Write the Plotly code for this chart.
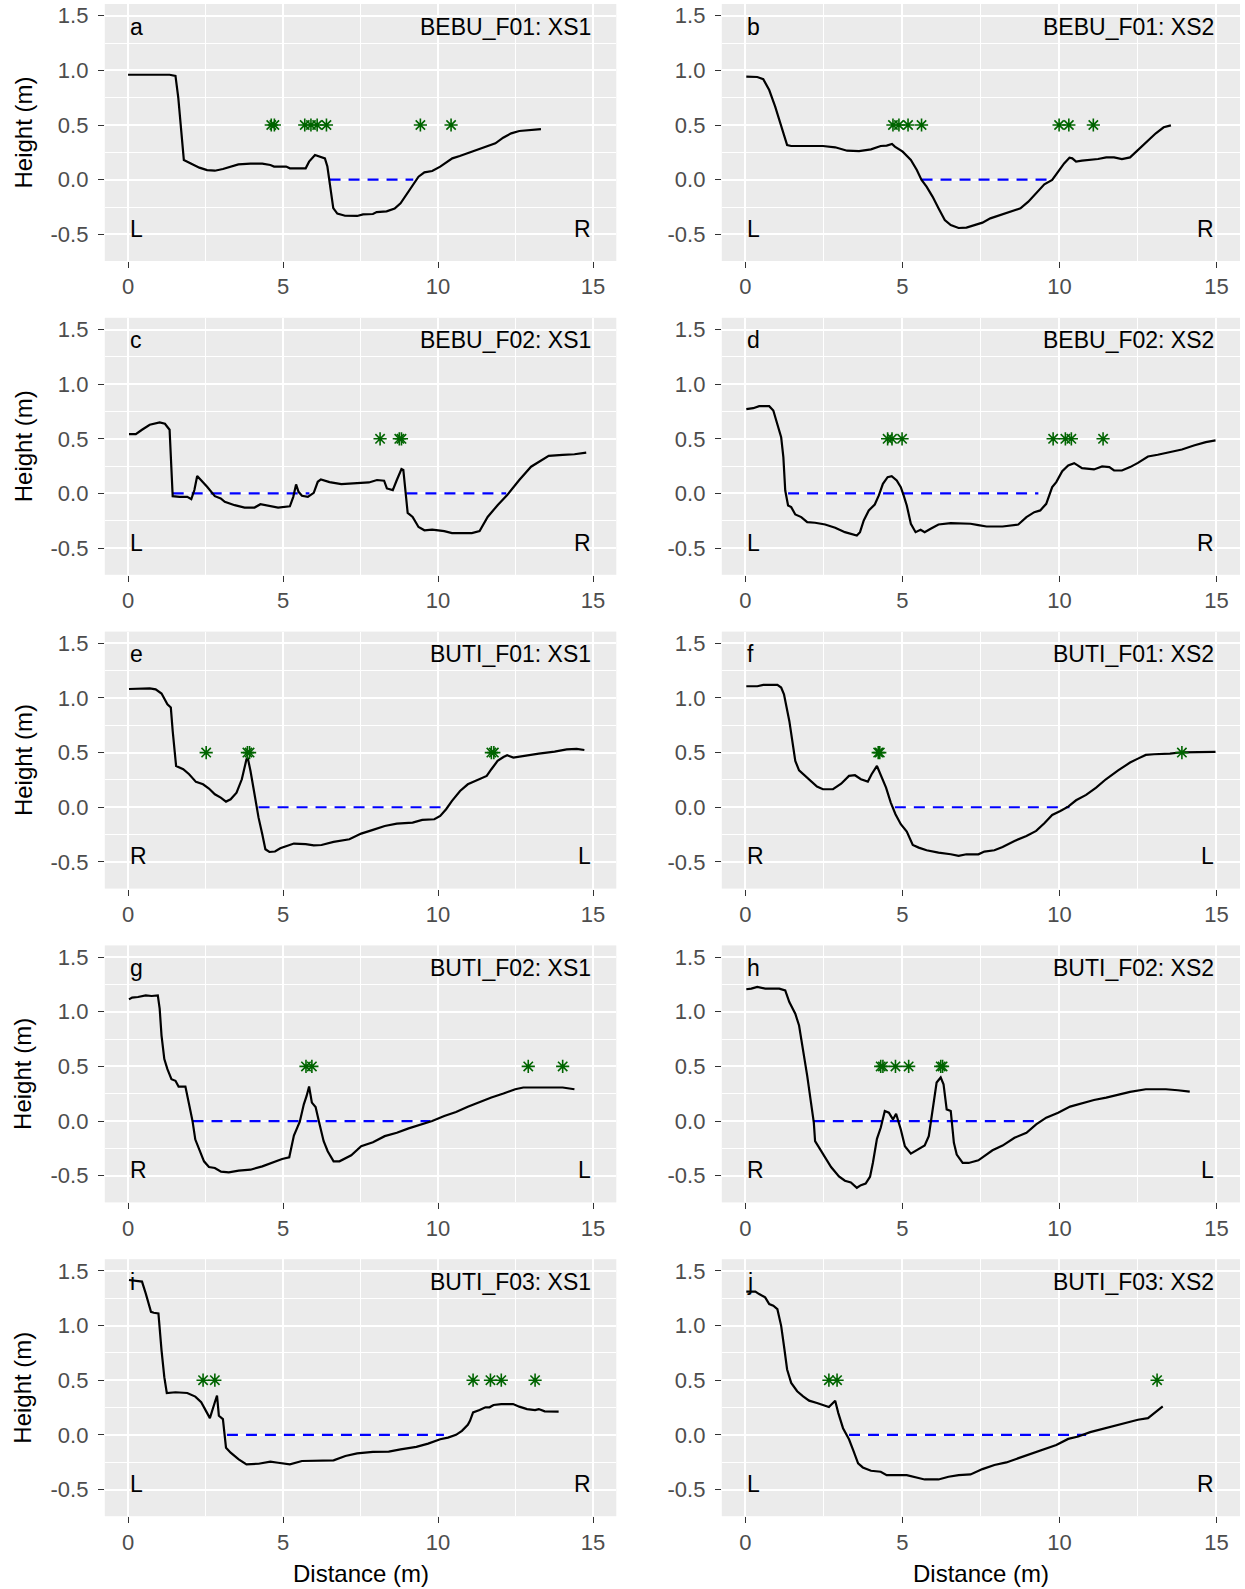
import plotly.graph_objects as go

# ---------------- data ----------------
panel_letters = ["a", "b", "c", "d", "e", "f", "g", "h", "i", "j"]
panel_titles = ["BEBU_F01: XS1", "BEBU_F01: XS2", "BEBU_F02: XS1", "BEBU_F02: XS2",
                "BUTI_F01: XS1", "BUTI_F01: XS2", "BUTI_F02: XS1", "BUTI_F02: XS2",
                "BUTI_F03: XS1", "BUTI_F03: XS2"]
left_bank = ["L", "L", "L", "L", "R", "R", "R", "R", "L", "L"]
right_bank = ["R", "R", "R", "R", "L", "L", "L", "L", "R", "R"]

x_ticks = [0, 5, 10, 15]
x_ticklabels = ["0", "5", "10", "15"]
y_ticks = [-0.5, 0.0, 0.5, 1.0, 1.5]
y_ticklabels = ["-0.5", "0.0", "0.5", "1.0", "1.5"]

a_x = [0.0, 1.34, 1.53, 1.62, 1.8, 1.9, 2.1, 2.3, 2.55, 2.8, 3.06, 3.31, 3.56, 3.95, 4.33, 4.59, 4.71, 5.1, 5.22,
       5.73, 5.84, 6.03, 6.18, 6.35, 6.43, 6.53, 6.62, 6.75, 7.0, 7.39, 7.58, 7.9, 8.02, 8.34, 8.6, 8.79, 8.98,
       9.18, 9.37, 9.56, 9.81, 10.07, 10.27, 10.46, 10.7, 11.08, 11.47, 11.85, 12.1, 12.36, 12.62, 12.99, 13.32]
a_y = [0.96, 0.96, 0.95, 0.75, 0.18, 0.165, 0.14, 0.11, 0.088, 0.082, 0.098, 0.12, 0.14, 0.146, 0.146, 0.134, 0.12,
       0.12, 0.104, 0.104, 0.165, 0.225, 0.21, 0.195, 0.12, -0.064, -0.26, -0.31, -0.33, -0.332, -0.317, -0.314,
       -0.296, -0.29, -0.265, -0.216, -0.14, -0.049, 0.027, 0.067, 0.079, 0.119, 0.159, 0.195, 0.216, 0.256, 0.293,
       0.332, 0.384, 0.424, 0.445, 0.454, 0.463]

b_x = [0.03, 0.38, 0.57, 0.76, 0.95, 1.14, 1.33, 1.46, 2.47, 2.86, 3.24, 3.62, 4.0, 4.31, 4.5, 4.67, 4.76, 5.01,
       5.27, 5.46, 5.61, 5.77, 5.96, 6.15, 6.35, 6.54, 6.79, 7.04, 7.3, 7.55, 7.8, 8.19, 8.5, 8.76, 9.01, 9.26,
       9.52, 9.77, 9.96, 10.15, 10.32, 10.41, 10.53, 10.72, 11.23, 11.49, 11.74, 11.99, 12.25, 12.5, 12.75, 13.07,
       13.32, 13.55]
b_y = [0.942, 0.939, 0.92, 0.82, 0.668, 0.485, 0.317, 0.308, 0.308, 0.296, 0.265, 0.262, 0.277, 0.308, 0.311, 0.326,
       0.302, 0.256, 0.18, 0.088, -0.003, -0.064, -0.155, -0.262, -0.369, -0.415, -0.442, -0.439, -0.418, -0.393,
       -0.354, -0.314, -0.287, -0.262, -0.201, -0.125, -0.043, -0.003, 0.073, 0.149, 0.201, 0.195, 0.165, 0.174,
       0.189, 0.204, 0.204, 0.189, 0.204, 0.271, 0.338, 0.424, 0.479, 0.497]

c_x = [0.03, 0.25, 0.45, 0.7, 1.02, 1.19, 1.34, 1.4, 1.44, 1.66, 1.91, 2.04, 2.14, 2.23, 2.36, 2.55, 2.8, 2.99, 3.12,
       3.44, 3.76, 4.08, 4.27, 4.46, 4.84, 5.22, 5.33, 5.42, 5.5, 5.61, 5.8, 5.99, 6.12, 6.22, 6.5, 6.88, 7.39,
       7.77, 8.03, 8.26, 8.35, 8.54, 8.67, 8.82, 8.88, 8.95, 9.02, 9.18, 9.37, 9.56, 9.81, 10.2, 10.45, 11.09,
       11.34, 11.6, 11.92, 12.23, 12.62, 13.0, 13.26, 13.57, 14.02, 14.4, 14.78]
c_y = [0.543, 0.543, 0.583, 0.629, 0.65, 0.638, 0.583, 0.245, -0.025, -0.031, -0.031, -0.052, 0.031, 0.16, 0.123,
       0.061, -0.025, -0.046, -0.077, -0.107, -0.129, -0.129, -0.098, -0.107, -0.129, -0.117, -0.031, 0.083, 0.015,
       -0.021, -0.031, 0.006, 0.107, 0.129, 0.104, 0.086, 0.098, 0.101, 0.123, 0.117, 0.046, 0.031, 0.123, 0.224,
       0.215, 0.0, -0.178, -0.215, -0.307, -0.337, -0.331, -0.344, -0.362, -0.362, -0.344, -0.215, -0.107, -0.015,
       0.123, 0.245, 0.291, 0.344, 0.353, 0.359, 0.374]

d_x = [0.03, 0.25, 0.44, 0.76, 0.89, 1.02, 1.14, 1.21, 1.27, 1.36, 1.46, 1.59, 1.78, 1.97, 2.22, 2.54, 2.86, 3.17,
       3.36, 3.55, 3.65, 3.77, 3.93, 4.12, 4.25, 4.38, 4.53, 4.66, 4.82, 4.95, 5.04, 5.14, 5.27, 5.42, 5.58, 5.71,
       5.9, 6.15, 6.54, 7.17, 7.42, 7.68, 8.19, 8.69, 8.95, 9.2, 9.39, 9.58, 9.77, 9.9, 10.09, 10.28, 10.47, 10.72,
       11.1, 11.36, 11.59, 11.74, 11.99, 12.25, 12.5, 12.82, 13.13, 13.51, 13.9, 14.28, 14.66, 14.97]
d_y = [0.771, 0.78, 0.799, 0.799, 0.759, 0.637, 0.515, 0.332, 0.027, -0.11, -0.125, -0.192, -0.216, -0.262, -0.268,
       -0.284, -0.314, -0.354, -0.369, -0.384, -0.354, -0.247, -0.155, -0.101, -0.018, 0.088, 0.149, 0.159, 0.119,
       0.058, -0.018, -0.11, -0.277, -0.354, -0.332, -0.354, -0.323, -0.284, -0.271, -0.277, -0.29, -0.302, -0.302,
       -0.284, -0.216, -0.171, -0.155, -0.095, 0.058, 0.104, 0.204, 0.256, 0.277, 0.232, 0.22, 0.247, 0.241, 0.21,
       0.21, 0.241, 0.28, 0.338, 0.354, 0.378, 0.402, 0.439, 0.47, 0.485]

e_x = [0.03, 0.51, 0.7, 0.89, 1.08, 1.27, 1.38, 1.44, 1.55, 1.78, 1.97, 2.19, 2.42, 2.61, 2.8, 2.99, 3.16, 3.31, 3.5,
       3.67, 3.82, 3.86, 3.95, 4.08, 4.21, 4.33, 4.43, 4.56, 4.74, 4.91, 5.1, 5.35, 5.73, 5.99, 6.24, 6.63, 7.14,
       7.52, 7.9, 8.28, 8.67, 9.18, 9.49, 9.88, 10.07, 10.26, 10.45, 10.71, 10.96, 11.22, 11.57, 11.72, 11.92,
       12.11, 12.23, 12.43, 12.75, 13.25, 13.76, 14.15, 14.47, 14.72]
e_y = [1.082, 1.082, 1.088, 1.079, 1.04, 0.942, 0.912, 0.698, 0.378, 0.348, 0.302, 0.232, 0.21, 0.171, 0.119, 0.088,
       0.052, 0.073, 0.134, 0.256, 0.439, 0.454, 0.332, 0.119, -0.095, -0.247, -0.384, -0.409, -0.405, -0.375,
       -0.354, -0.332, -0.338, -0.348, -0.345, -0.317, -0.293, -0.241, -0.207, -0.171, -0.149, -0.14, -0.116,
       -0.11, -0.079, -0.018, 0.058, 0.149, 0.21, 0.241, 0.287, 0.348, 0.424, 0.46, 0.476, 0.454, 0.47, 0.491,
       0.509, 0.53, 0.534, 0.524]

f_x = [0.03, 0.38, 0.57, 1.02, 1.14, 1.23, 1.4, 1.59, 1.71, 1.9, 2.09, 2.28, 2.47, 2.79, 3.05, 3.3, 3.49, 3.68, 3.9,
       4.02, 4.19, 4.31, 4.48, 4.63, 4.78, 4.95, 5.14, 5.33, 5.52, 5.77, 6.15, 6.54, 6.79, 7.04, 7.42, 7.61, 7.93,
       8.19, 8.57, 8.95, 9.26, 9.52, 9.77, 10.03, 10.28, 10.53, 10.85, 11.17, 11.48, 11.87, 12.25, 12.5, 12.75,
       13.01, 13.52, 13.9, 14.4, 14.97]
f_y = [1.107, 1.107, 1.119, 1.119, 1.095, 1.034, 0.79, 0.424, 0.338, 0.287, 0.232, 0.189, 0.165, 0.165, 0.216, 0.287,
       0.293, 0.256, 0.235, 0.302, 0.378, 0.302, 0.18, 0.043, -0.064, -0.155, -0.223, -0.345, -0.369, -0.393,
       -0.415, -0.43, -0.445, -0.43, -0.43, -0.405, -0.393, -0.363, -0.308, -0.262, -0.216, -0.146, -0.07, -0.034,
       0.006, 0.064, 0.113, 0.18, 0.256, 0.338, 0.409, 0.445, 0.479, 0.485, 0.491, 0.503, 0.506, 0.506]

g_x = [0.03, 0.13, 0.32, 0.57, 0.76, 0.96, 1.02, 1.08, 1.17, 1.27, 1.4, 1.53, 1.63, 1.85, 1.98, 2.08, 2.17, 2.29,
       2.45, 2.61, 2.8, 3.0, 3.25, 3.57, 3.95, 4.33, 4.72, 4.97, 5.2, 5.35, 5.54, 5.67, 5.76, 5.84, 5.93, 6.05,
       6.18, 6.31, 6.44, 6.63, 6.82, 7.01, 7.2, 7.52, 7.9, 8.28, 8.67, 9.05, 9.43, 9.81, 10.2, 10.58, 10.96, 11.34,
       11.72, 12.11, 12.49, 12.75, 13.25, 14.02, 14.4]
g_y = [1.113, 1.129, 1.135, 1.15, 1.144, 1.15, 1.028, 0.782, 0.567, 0.475, 0.383, 0.368, 0.316, 0.316, 0.138, 0.0,
       -0.169, -0.261, -0.368, -0.42, -0.429, -0.463, -0.469, -0.454, -0.445, -0.414, -0.374, -0.347, -0.331,
       -0.132, -0.006, 0.153, 0.23, 0.316, 0.169, 0.129, -0.031, -0.184, -0.276, -0.368, -0.368, -0.337, -0.313,
       -0.23, -0.193, -0.138, -0.107, -0.067, -0.037, 0.0, 0.046, 0.083, 0.132, 0.175, 0.215, 0.252, 0.291, 0.307,
       0.307, 0.307, 0.291]

h_x = [0.03, 0.19, 0.38, 0.63, 1.08, 1.27, 1.4, 1.59, 1.71, 1.84, 1.97, 2.09, 2.18, 2.22, 2.35, 2.54, 2.73, 2.98,
       3.17, 3.36, 3.55, 3.68, 3.83, 3.97, 4.06, 4.19, 4.31, 4.44, 4.57, 4.7, 4.8, 4.95, 5.08, 5.27, 5.46, 5.71,
       5.84, 5.96, 6.09, 6.22, 6.31, 6.41, 6.54, 6.64, 6.73, 6.92, 7.11, 7.42, 7.61, 7.87, 8.19, 8.57, 8.95, 9.26,
       9.58, 9.96, 10.34, 10.72, 11.1, 11.49, 11.87, 12.25, 12.75, 13.39, 13.77, 14.15]
h_y = [1.206, 1.212, 1.227, 1.212, 1.212, 1.196, 1.089, 0.982, 0.874, 0.66, 0.414, 0.169, -0.015, -0.184, -0.245,
       -0.337, -0.42, -0.506, -0.546, -0.561, -0.61, -0.586, -0.571, -0.509, -0.383, -0.163, -0.061, 0.092, 0.077,
       0.015, 0.067, -0.077, -0.23, -0.298, -0.267, -0.224, -0.138, 0.107, 0.353, 0.399, 0.337, 0.107, 0.092,
       -0.199, -0.307, -0.383, -0.383, -0.359, -0.322, -0.267, -0.224, -0.153, -0.107, -0.031, 0.031, 0.077,
       0.132, 0.163, 0.193, 0.215, 0.239, 0.267, 0.291, 0.291, 0.282, 0.27]

i_x = [0.03, 0.19, 0.45, 0.57, 0.74, 0.83, 0.98, 1.08, 1.17, 1.25, 1.53, 1.91, 2.17, 2.36, 2.49, 2.64, 2.8, 2.87,
       2.93, 3.06, 3.16, 3.31, 3.57, 3.82, 4.21, 4.59, 4.84, 5.22, 5.61, 6.12, 6.63, 7.01, 7.39, 7.9, 8.41, 8.79,
       9.3, 9.68, 10.07, 10.32, 10.58, 10.77, 10.96, 11.03, 11.13, 11.34, 11.53, 11.66, 11.79, 12.04, 12.42,
       12.62, 12.87, 13.13, 13.25, 13.44, 13.89]
i_y = [1.417, 1.411, 1.402, 1.294, 1.126, 1.117, 1.11, 0.773, 0.528, 0.383, 0.39, 0.383, 0.35, 0.298, 0.236, 0.153,
       0.298, 0.359, 0.175, 0.144, -0.117, -0.163, -0.224, -0.27, -0.264, -0.245, -0.255, -0.27, -0.239, -0.239,
       -0.233, -0.193, -0.169, -0.156, -0.153, -0.132, -0.11, -0.08, -0.04, -0.025, 0.0, 0.037, 0.092, 0.129,
       0.206, 0.227, 0.252, 0.252, 0.273, 0.282, 0.282, 0.258, 0.236, 0.227, 0.236, 0.215, 0.212]

j_x = [0.03, 0.32, 0.44, 0.63, 0.76, 0.89, 1.02, 1.14, 1.23, 1.33, 1.46, 1.65, 1.84, 2.03, 2.28, 2.47, 2.66, 2.86,
       2.96, 3.11, 3.3, 3.43, 3.59, 3.74, 4.0, 4.31, 4.5, 5.14, 5.46, 5.71, 6.15, 6.47, 6.79, 7.17, 7.55, 7.93,
       8.31, 8.69, 9.07, 9.46, 9.9, 10.28, 10.6, 10.98, 11.36, 11.74, 12.12, 12.5, 12.82, 13.01, 13.29]
j_y = [1.31, 1.31, 1.288, 1.258, 1.196, 1.181, 1.15, 0.997, 0.813, 0.598, 0.475, 0.399, 0.353, 0.313, 0.291, 0.276,
       0.255, 0.313, 0.199, 0.061, -0.04, -0.138, -0.261, -0.298, -0.328, -0.337, -0.368, -0.368, -0.393, -0.408,
       -0.408, -0.383, -0.368, -0.362, -0.313, -0.276, -0.252, -0.215, -0.178, -0.138, -0.092, -0.037, -0.015,
       0.025, 0.052, 0.086, 0.107, 0.138, 0.153, 0.199, 0.261]

# water surface (blue dashed) segments: [start, end] pairs at height 0
a_water = [[6.5, 9.2]]
b_water = [[5.61, 9.81]]
c_water = [[1.44, 5.85], [8.98, 12.2]]
d_water = [[1.36, 9.33]]
e_water = [[4.21, 10.32]]
f_water = [[4.76, 10.32]]
g_water = [[2.08, 9.75]]
h_water = [[2.18, 9.26]]
i_water = [[3.19, 10.19]]
j_water = [[3.3, 10.85]]
water_level = 0.0

# marker (asterisk) positions, drawn at height 0.5
marker_height = 0.5
a_marks = [4.62, 4.72, 5.70, 5.90, 6.10, 6.40, 9.43, 10.42]
b_marks = [4.70, 4.89, 5.18, 5.61, 9.99, 10.30, 11.08]
c_marks = [8.13, 8.75, 8.82]
d_marks = [4.53, 4.67, 4.99, 9.80, 10.19, 10.38, 11.39]
e_marks = [2.52, 3.85, 3.92, 11.72, 11.80]
f_marks = [4.23, 4.28, 13.90]
g_marks = [5.74, 5.93, 12.91, 14.02]
h_marks = [4.31, 4.38, 4.78, 5.20, 6.22, 6.28]
i_marks = [2.42, 2.80, 11.13, 11.69, 12.04, 13.13]
j_marks = [2.66, 2.92, 13.11]

profiles_x = [a_x, b_x, c_x, d_x, e_x, f_x, g_x, h_x, i_x, j_x]
profiles_y = [a_y, b_y, c_y, d_y, e_y, f_y, g_y, h_y, i_y, j_y]
waters = [a_water, b_water, c_water, d_water, e_water, f_water, g_water, h_water, i_water, j_water]
marks = [a_marks, b_marks, c_marks, d_marks, e_marks, f_marks, g_marks, h_marks, i_marks, j_marks]

# ---------------- layout geometry ----------------
W, H = 1245, 1589
col_px = [(104.8, 616.3), (721.8, 1240.0)]
row_pitch = 313.8
row_top0, row_bot0 = 4.0, 261.0
x_range = [-0.75, 15.75]
y_range = [-0.744, 1.607]

FONT = "Liberation Sans, Arial, Helvetica, sans-serif"
TICK_SIZE = 22
TEXT_SIZE = 23
TITLE_SIZE = 24
GREEN = "#006400"

fig = go.Figure()
annotations = []
layout_axes = {}

for k in range(10):
    row, col = divmod(k, 2)
    n = k + 1
    xa = "x" if n == 1 else f"x{n}"
    ya = "y" if n == 1 else f"y{n}"
    xkey = "xaxis" if n == 1 else f"xaxis{n}"
    ykey = "yaxis" if n == 1 else f"yaxis{n}"
    x0, x1 = col_px[col]
    top = row_top0 + row * row_pitch
    bot = row_bot0 + row * row_pitch

    layout_axes[xkey] = dict(
        domain=[x0 / W, x1 / W], anchor=ya, range=x_range, fixedrange=True,
        tickmode="array", tickvals=x_ticks, ticktext=x_ticklabels,
        ticks="outside", ticklen=6, tickwidth=1.3, tickcolor="#333333",
        tickfont=dict(family=FONT, size=TICK_SIZE, color="#4D4D4D"),
        showgrid=True, gridcolor="white", gridwidth=1.6, zeroline=False, showline=False,
        minor=dict(tickmode="array", tickvals=[2.5, 7.5, 12.5], showgrid=True,
                   gridcolor="white", gridwidth=0.8, ticks=""),
    )
    layout_axes[ykey] = dict(
        domain=[1 - bot / H, 1 - top / H], anchor=xa, range=y_range, fixedrange=True,
        tickmode="array", tickvals=y_ticks, ticktext=y_ticklabels,
        ticks="outside", ticklen=6, tickwidth=1.3, tickcolor="#333333",
        ticklabelstandoff=5,
        tickfont=dict(family=FONT, size=TICK_SIZE, color="#4D4D4D"),
        showgrid=True, gridcolor="white", gridwidth=1.6, zeroline=False, showline=False,
        minor=dict(tickmode="array", tickvals=[-0.25, 0.25, 0.75, 1.25], showgrid=True,
                   gridcolor="white", gridwidth=0.8, ticks=""),
    )

    # water surface
    for seg in waters[k]:
        fig.add_trace(go.Scatter(x=seg, y=[water_level, water_level], xaxis=xa, yaxis=ya,
                                 mode="lines", line=dict(color="#0000FF", width=2.2, dash="11px,8px"),
                                 hoverinfo="skip", showlegend=False))
    # profile
    fig.add_trace(go.Scatter(x=profiles_x[k], y=profiles_y[k], xaxis=xa, yaxis=ya, mode="lines",
                             line=dict(color="black", width=2.2), showlegend=False))
    # markers
    fig.add_trace(go.Scatter(x=marks[k], y=[marker_height] * len(marks[k]), xaxis=xa, yaxis=ya,
                             mode="markers",
                             marker=dict(symbol="asterisk-open", size=11, color=GREEN,
                                         line=dict(color=GREEN, width=1.6)),
                             showlegend=False))

    # panel texts
    annotations += [
        dict(x=0, y=1.4, xref=xa, yref=ya, text=panel_letters[k], showarrow=False,
             xanchor="left", yanchor="middle", font=dict(family=FONT, size=TEXT_SIZE, color="black")),
        dict(x=15, y=1.4, xref=xa, yref=ya, text=panel_titles[k], showarrow=False,
             xanchor="right", yanchor="middle", font=dict(family=FONT, size=TEXT_SIZE, color="black")),
        dict(x=0, y=-0.45, xref=xa, yref=ya, text=left_bank[k], showarrow=False,
             xanchor="left", yanchor="middle", font=dict(family=FONT, size=TEXT_SIZE, color="black")),
        dict(x=15, y=-0.45, xref=xa, yref=ya, text=right_bank[k], showarrow=False,
             xanchor="right", yanchor="middle", font=dict(family=FONT, size=TEXT_SIZE, color="black")),
    ]
    if col == 0:
        annotations.append(dict(x=23 / W, y=1 - (top + bot) / 2 / H, xref="paper", yref="paper",
                                text="Height (m)", textangle=-90, showarrow=False,
                                xanchor="center", yanchor="middle",
                                font=dict(family=FONT, size=TITLE_SIZE, color="black")))
    if row == 4:
        annotations.append(dict(x=(x0 + x1) / 2 / W, y=1 - 1573 / H, xref="paper", yref="paper",
                                text="Distance (m)", showarrow=False,
                                xanchor="center", yanchor="middle",
                                font=dict(family=FONT, size=TITLE_SIZE, color="black")))

fig.update_layout(
    width=W, height=H, margin=dict(l=0, r=0, t=0, b=0),
    paper_bgcolor="white", plot_bgcolor="#EBEBEB",
    showlegend=False, annotations=annotations, **layout_axes,
)

fig.write_html("out.html")
